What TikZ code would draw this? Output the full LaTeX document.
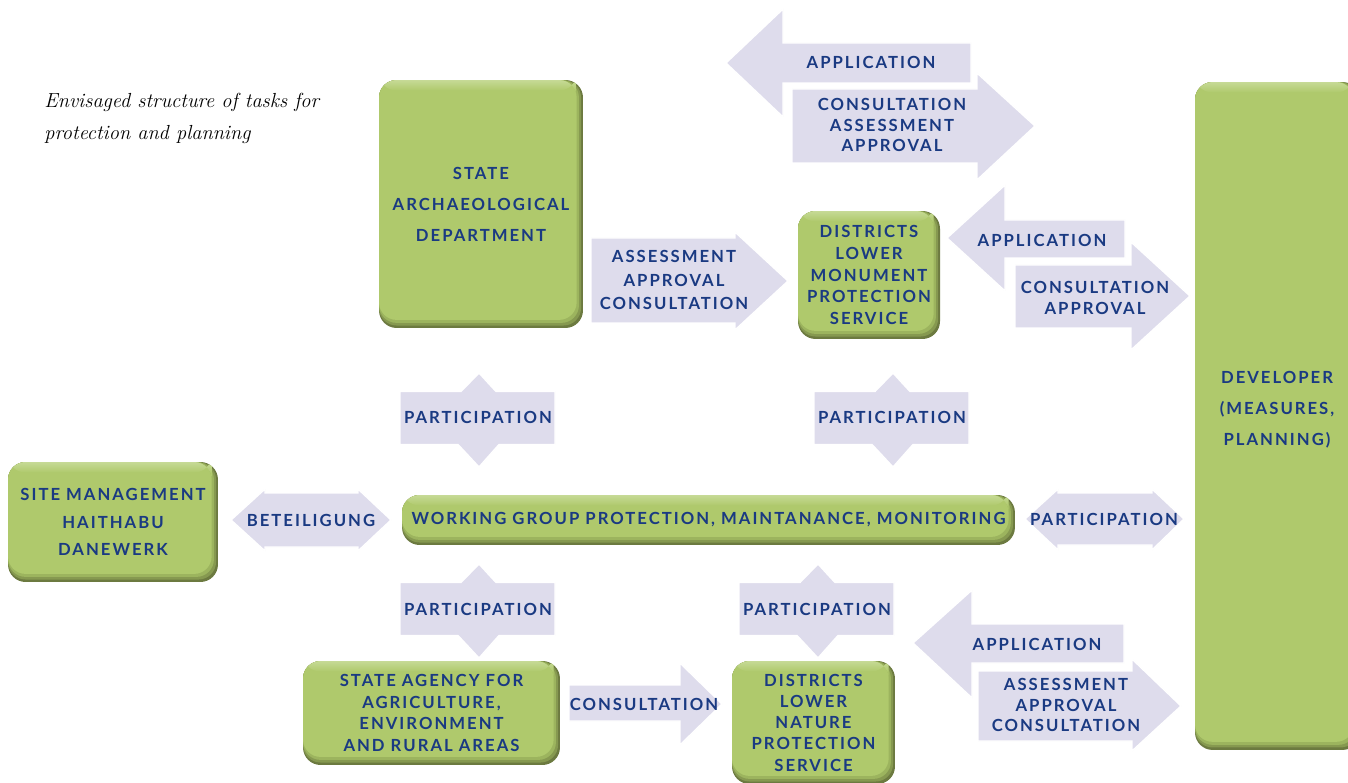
\documentclass[tikz,border=0pt]{standalone}
\usepackage{fontspec}
\newfontfamily\lblfont[LetterSpace=12]{Lato}
\usetikzlibrary{calc}
\definecolor{arrowfill}{RGB}{222,220,236}
\definecolor{txtblue}{RGB}{26,58,130}
\definecolor{boxgreen}{RGB}{175,201,108}
\definecolor{boxmidb}{RGB}{156,180,94}
\definecolor{boxmid}{RGB}{134,153,80}
\definecolor{boxdark}{RGB}{108,122,64}
\definecolor{boxlight}{RGB}{198,218,150}
% participation arrow pointing up and down
\newcommand{\partarrow}[2]{%
  \begin{scope}[shift={(#1,#2)}]
    \fill[arr] (-78,-26.5) -- (-17,-26.5) -- (1,-45) -- (18,-26.5) -- (77,-26.5)
      -- (77,26.5) -- (21,26.5) -- (1,49) -- (-20,26.5) -- (-78,26.5) -- cycle;
  \end{scope}}
\begin{document}
\begin{tikzpicture}[x=0.02cm, y=-0.02cm,
  lbl/.style={font=\lblfont\bfseries\fontsize{9.5}{#1}\selectfont, text=txtblue, align=center, inner sep=0pt},
  lbl/.default=12pt,
  arr/.style={fill=arrowfill, draw=white, line width=0.8pt},
  gbox/.style={lbl=#1, rounded corners=10pt, fill=boxdark,
    path picture={
      \fill[boxmid, rounded corners=10pt] (path picture bounding box.north west)
        rectangle ([xshift=-1.1pt,yshift=1.4pt]path picture bounding box.south east);
      \fill[boxmidb, rounded corners=10pt] (path picture bounding box.north west)
        rectangle ([xshift=-2.3pt,yshift=2.9pt]path picture bounding box.south east);
      \fill[boxgreen, rounded corners=10pt] (path picture bounding box.north west)
        rectangle ([xshift=-3.6pt,yshift=4.6pt]path picture bounding box.south east);
      \shade[top color=boxlight, bottom color=boxgreen] (path picture bounding box.north west)
        rectangle ([xshift=-3.6pt,yshift=-6pt]path picture bounding box.north east);
    }},
  gbox/.default=12pt]
\fill[white] (0,0) rectangle (1348,783);
\useasboundingbox (0,0) rectangle (1348,783);

\node[font=\fontsize{11.6}{18.2}\selectfont\itshape, align=left, anchor=north west, inner sep=0pt]
  (caption) at (44,93) {Envisaged structure of tasks for\\protection and planning};

% arrows
\fill[arr] (971,43) -- (783,43) -- (783,9) -- (726,63) -- (783,117) -- (783,83) -- (971,83) -- cycle;
\fill[arr] (792,89) -- (977,89) -- (977,73) -- (1035,126) -- (977,180) -- (977,163) -- (792,163) -- cycle;
\fill[arr] (591,238) -- (735,238) -- (735,232) -- (788,281) -- (735,330) -- (735,323) -- (591,323) -- cycle;
\fill[arr] (1125,220) -- (1005,220) -- (1005,185) -- (947,238) -- (1005,291) -- (1005,258) -- (1125,258) -- cycle;
\fill[arr] (1015,265) -- (1131,265) -- (1131,242) -- (1190,296) -- (1131,350) -- (1131,328) -- (1015,328) -- cycle;
\fill[arr] (231,520) -- (265,489) -- (265,493) -- (358,493) -- (358,489) -- (391,520)
  -- (358,551) -- (358,547) -- (265,547) -- (265,551) -- cycle;
\fill[arr] (1025,519) -- (1058,489) -- (1058,493) -- (1152,493) -- (1152,489) -- (1184,519)
  -- (1152,550) -- (1152,545) -- (1058,545) -- (1058,550) -- cycle;
\fill[arr] (569,685) -- (680,685) -- (680,663) -- (722,704) -- (680,745) -- (680,721) -- (569,721) -- cycle;
\fill[arr] (1124,624) -- (972,624) -- (972,590) -- (913,643) -- (972,698) -- (972,663) -- (1124,663) -- cycle;
\fill[arr] (978,671) -- (1132,671) -- (1132,659) -- (1181,706) -- (1132,751) -- (1132,741) -- (978,741) -- cycle;
\partarrow{478}{418}
\partarrow{892}{418}
\partarrow{478}{609}
\partarrow{817}{609}

% boxes
\node[gbox=17.6pt, minimum width=4.08cm, minimum height=4.96cm] (sad) at (481,204)
  {STATE\\ARCHAEOLOGICAL\\DEPARTMENT};
\node[gbox=12.5pt, minimum width=2.84cm, minimum height=2.56cm] (dlmps) at (869,275)
  {DISTRICTS\\LOWER\\MONUMENT\\PROTECTION\\SERVICE};
\node[gbox, minimum width=3.3cm, minimum height=13.36cm] (dev) at (1277.5,416) {};
\node[lbl=17.6pt] (devtext) at (1277,410) {DEVELOPER\\(MEASURES,\\PLANNING)};
\node[gbox=15.6pt, minimum width=4.2cm, minimum height=2.4cm] (site) at (113,522)
  {SITE MANAGEMENT\\HAITHABU\\DANEWERK};
\node[gbox, minimum width=12.26cm, minimum height=1cm] (wg) at (708.5,520)
  {WORKING GROUP PROTECTION, MAINTANANCE, MONITORING};
\node[gbox=12.2pt, minimum width=5.14cm, minimum height=2.08cm] (agency) at (431.5,713)
  {STATE AGENCY FOR\\AGRICULTURE,\\ENVIRONMENT\\AND RURAL AREAS};
\node[gbox=12.1pt, minimum width=3.26cm, minimum height=2.46cm] (dlnps) at (813.5,722.5)
  {DISTRICTS\\LOWER\\NATURE\\PROTECTION\\SERVICE};

% arrow labels
\node[lbl] (appl1) at (871,62) {APPLICATION};
\node[lbl=11.9pt] (cons1) at (892,125) {CONSULTATION\\ASSESSMENT\\APPROVAL};
\node[lbl=13.6pt] (ass1) at (674,280) {ASSESSMENT\\APPROVAL\\CONSULTATION};
\node[lbl] (appl2) at (1042,240) {APPLICATION};
\node[lbl=11.9pt] (cons2) at (1095,298) {CONSULTATION\\APPROVAL};
\node[lbl] (part1) at (478,417) {PARTICIPATION};
\node[lbl] (part2) at (892,417) {PARTICIPATION};
\node[lbl] (bet) at (311,520) {BETEILIGUNG};
\node[lbl] (part3) at (1104,519) {PARTICIPATION};
\node[lbl] (part4) at (478,609) {PARTICIPATION};
\node[lbl] (part5) at (817,609) {PARTICIPATION};
\node[lbl] (cons3) at (644,704) {CONSULTATION};
\node[lbl] (appl3) at (1037,644) {APPLICATION};
\node[lbl=11.6pt] (ass2) at (1066,705) {ASSESSMENT\\APPROVAL\\CONSULTATION};
\end{tikzpicture}
\end{document}
